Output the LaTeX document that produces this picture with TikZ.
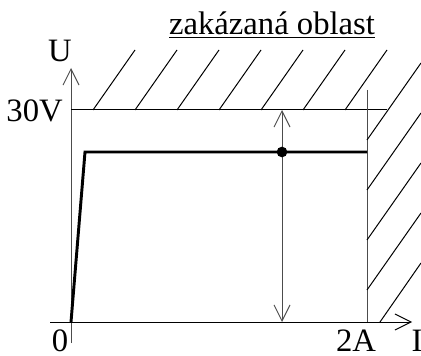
\documentclass[tikz,border=0pt]{standalone}
\usepackage{fontspec}
\setmainfont{Liberation Serif}
\usetikzlibrary{arrows.meta}

\begin{document}
\begin{tikzpicture}[
    x=0.75pt, y=-0.75pt,
    every node/.style={font=\fontsize{24.5}{28}\selectfont, inner sep=0pt},
    axis/.style={line width=0.75pt, -{Straight Barb[length=12pt, width=12pt]}},
    guide/.style={line width=0.75pt, draw=black!70},
    hatch/.style={line width=0.75pt},
    curve/.style={line width=2.2pt, line join=miter},
    span/.style={line width=0.75pt, draw=black!70, {Straight Barb[length=12pt, width=12pt]}-{Straight Barb[length=12pt, width=12pt]}}
]
\useasboundingbox (0,0) rectangle (421,356);
% axes
\coordinate (ybot) at (71,343);
\coordinate (ytop) at (71,68);
\coordinate (xbeg) at (50,322);
\coordinate (xend) at (412,322);
\coordinate (origin) at (71,322);
\coordinate (knee) at (85,152);
\coordinate (limit) at (367,152);
\coordinate (vmax) at (71,110);
\coordinate (vmaxend) at (387,110);
\coordinate (itop) at (367,90);
\coordinate (ibot) at (367,322);
\coordinate (top) at (282,110);
\coordinate (bottom) at (282,322);
\draw[axis, draw=black!70] (ybot) -- (ytop);
\draw[axis] (xbeg) -- (xend);
\draw[hatch] (vmax) -- (vmaxend);
\draw[guide] (itop) -- (ibot);
% hatching of the forbidden area
\foreach \x in {93,135,...,345}
    \draw[hatch] (\x,110) -- ++(42,-60);
\foreach \y in {140,190,240,290}
    \draw[hatch] (367,\y) -- ++(54,-77);
\draw[hatch] (380,322) -- ++(41,-59);
% characteristic
\draw[curve] (origin) -- (knee) -- (limit);
\draw[span] (top) -- (bottom);
\node[circle, fill=black, minimum size=8pt] (point) at (282,152) {};
% labels
\node[anchor=base] (forbidden) at (272,35) {\underline{zakázaná oblast}};
\node[anchor=base] (ulabel) at (60,62) {U};
\node[anchor=base east] (vlabel) at (63,122) {30V};
\node[anchor=base] (zero) at (60,351) {0};
\node[anchor=base] (alabel) at (356,351) {2A};
\node[anchor=base] (ilabel) at (417,351) {I};
\end{tikzpicture}
\end{document}
